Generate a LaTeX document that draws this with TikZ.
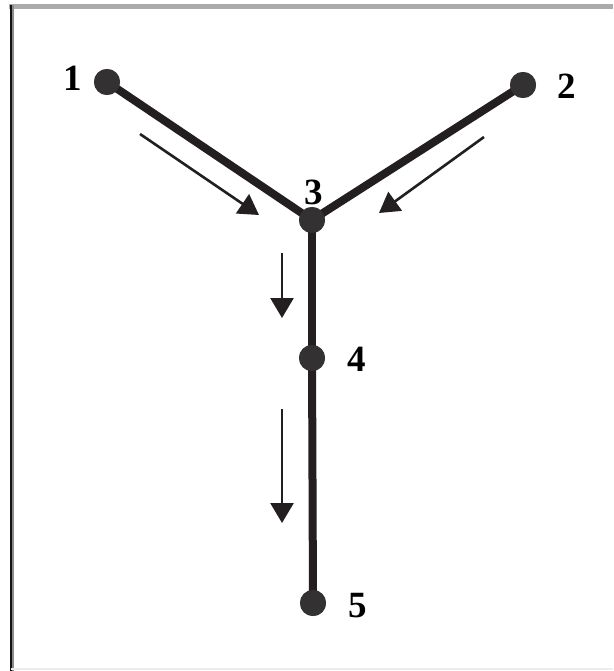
\documentclass[tikz,border=0pt]{standalone}
\usepackage{fontspec}
\setmainfont{Liberation Serif}
\usetikzlibrary{arrows.meta}
\definecolor{ink}{HTML}{231F20}
\definecolor{dotc}{HTML}{333131}
\begin{document}
\begin{tikzpicture}[x=1pt,y=-1pt,
  dotnode/.style={circle,fill=dotc,draw=none,minimum size=26pt,inner sep=0pt},
  lbl/.style={font=\fontsize{37}{40}\selectfont\bfseries,text=black,inner sep=0pt},
  pipe/.style={draw=ink,line width=8pt},
  flow/.style={draw=ink,line width=2.6pt,-{Triangle[length=20pt,width=23pt]}}]
\useasboundingbox (0,0) rectangle (613,671);
\fill[white] (0,0) rectangle (613,671);
% frame
\draw[color=black!33,line width=4.5pt] (9,6.5) -- (613,6.5);
\draw[color=black!93!white,line width=2pt] (11,5) -- (11,671);
\draw[color=black!45,line width=1.5pt] (13,5) -- (13,671);
\draw[color=black!7,line width=2pt] (11,669) -- (613,669);
% nodes
\node[dotnode] (n1) at (107,82) {};
\node[dotnode] (n2) at (523,85) {};
\node[dotnode] (n3) at (312,220) {};
\node[dotnode] (n4) at (312,358) {};
\node[dotnode] (n5) at (313,603) {};
% pipes
\draw[pipe] (n1.center) -- (n3.center);
\draw[pipe] (n2.center) -- (n3.center);
\draw[pipe] (n3.center) -- (n4.center);
\draw[pipe] (n4.center) -- (n5.center);
\foreach \n in {n1,n2,n3,n4,n5} \fill[dotc] (\n) circle (13pt);
% labels
\node[lbl] (l1) at (73,78) {1};
\node[lbl] (l2) at (567,86) {2};
\node[lbl] (l3) at (314,192) {3};
\node[lbl] (l4) at (357,359) {4};
\node[lbl] (l5) at (358,606) {5};
% flow arrows
\coordinate (a1s) at (140,134);
\coordinate (a1e) at (259,215);
\coordinate (a2s) at (484,137);
\coordinate (a2e) at (379,213);
\coordinate (a3s) at (282,253);
\coordinate (a3e) at (282,318);
\coordinate (a4s) at (282,409);
\coordinate (a4e) at (282,523);
\draw[flow] (a1s) -- (a1e);
\draw[flow] (a2s) -- (a2e);
\draw[flow] (a3s) -- (a3e);
\draw[flow] (a4s) -- (a4e);
\end{tikzpicture}
\end{document}
